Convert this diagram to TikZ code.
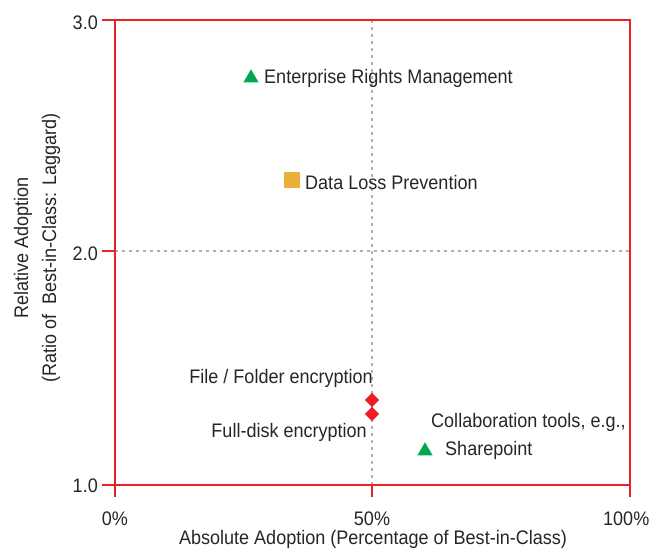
\documentclass[tikz,border=0pt]{standalone}
\usepackage{fontspec}
\setmainfont[FakeStretch=0.92]{Liberation Sans}
\usetikzlibrary{shapes.geometric}
\definecolor{boxred}{HTML}{E82128}
\definecolor{mkgreen}{HTML}{00A651}
\definecolor{mkgold}{HTML}{E8B03A}
\definecolor{mkred}{HTML}{ED1C24}
\definecolor{gridgray}{HTML}{B0B0B0}
\definecolor{txt}{HTML}{262626}
\tikzset{
  lbl/.style={inner sep=0pt, text=txt, font=\fontsize{19.6}{23}\selectfont},
  tri/.style={regular polygon, regular polygon sides=3, fill=mkgreen, inner sep=0pt, minimum size=17.5pt},
  sq/.style={rectangle, fill=mkgold, inner sep=0pt, minimum size=16pt},
  dia/.style={diamond, fill=mkred, inner sep=0pt, minimum width=14.5pt, minimum height=14.5pt},
  gridln/.style={gridgray, line width=1.3pt, dash pattern=on 3pt off 4pt},
  axis/.style={boxred, line width=2pt},
}
\begin{document}
\begin{tikzpicture}[x=1pt,y=-1pt]
\useasboundingbox (0,0) rectangle (651,549);
% grid
\coordinate (gt) at (372,20);
\coordinate (gb) at (372,485);
\coordinate (gl) at (115,251);
\coordinate (gr) at (630,251);
\draw[gridln] (gt) -- (gb);
\draw[gridln] (gl) -- (gr);
% box
\coordinate (tl) at (115,20);
\coordinate (br) at (630,485);
\draw[axis] (tl) rectangle (br);
% ticks
\coordinate (y3) at (115,20);   \coordinate (y3e) at (102,20);
\coordinate (y2) at (115,251);  \coordinate (y2e) at (102,251);
\coordinate (y1) at (115,485);  \coordinate (y1e) at (102,485);
\coordinate (x0) at (115,485);  \coordinate (x0e) at (115,497);
\coordinate (x5) at (372,485);  \coordinate (x5e) at (372,497);
\coordinate (xa) at (630,485);  \coordinate (xae) at (630,497);
\draw[axis] (y3) -- (y3e) (y2) -- (y2e) (y1) -- (y1e)
            (x0) -- (x0e) (x5) -- (x5e) (xa) -- (xae);
% tick labels
\node[lbl, anchor=east] (t3) at (98,23) {3.0};
\node[lbl, anchor=east] (t2) at (98,254) {2.0};
\node[lbl, anchor=east] (t1) at (98,486) {1.0};
\node[lbl] (p0) at (115,519) {0\%};
\node[lbl] (p50) at (372,519) {50\%};
\node[lbl, anchor=east] (p100) at (649.5,519) {100\%};
% axis titles
\node[lbl] (xt) at (373,539) {Absolute Adoption (Percentage of Best-in-Class)};
\node[lbl, rotate=90] (yt1) at (23,248) {Relative Adoption};
\node[lbl, rotate=90] (yt2) at (51,248) {(Ratio of \ Best-in-Class: Laggard)};
% data
\node[tri] (erm) at (251,78) {};
\node[lbl, anchor=west] (ermL) at (264,78) {Enterprise Rights Management};
\node[sq] (dlp) at (292,180) {};
\node[lbl, anchor=west] (dlpL) at (305,182) {Data Loss Prevention};
\node[dia] (ff) at (372,400) {};
\node[dia] (fd) at (372,414) {};
\node[lbl, anchor=east] (ffL) at (373,378) {File / Folder encryption};
\node[lbl, anchor=east] (fdL) at (367,432) {Full-disk encryption};
\node[tri] (col) at (425,451) {};
\node[lbl, anchor=west] (colL) at (431,422) {Collaboration tools, e.g.,};
\node[lbl, anchor=west] (colL2) at (445,450) {Sharepoint};
\end{tikzpicture}
\end{document}
